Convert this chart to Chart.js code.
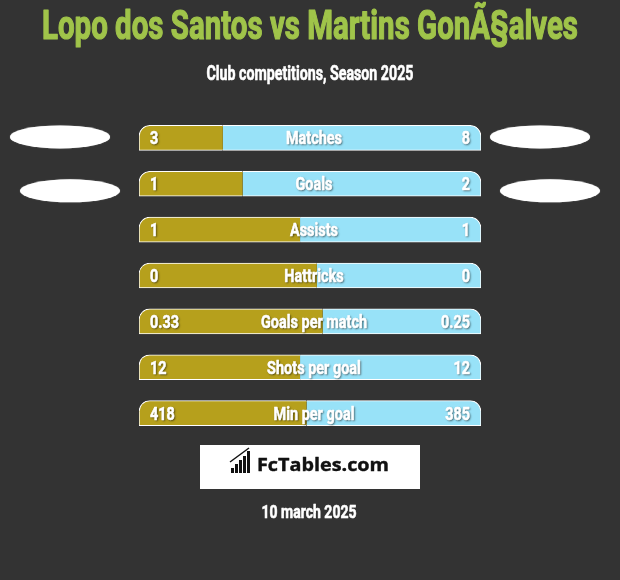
<!DOCTYPE html>
<html>
<head>
<meta charset="utf-8">
<title>Lopo dos Santos vs Martins Gonçalves</title>
<script src="https://cdn.jsdelivr.net/npm/chart.js@4"></script>
<style>
    html, body { margin: 0; padding: 0; background: #333333; }
    canvas { display: block; }
</style>
</head>
<body>
<canvas id="chart" width="620" height="580"></canvas>
<script>
// Chart data
const categories = ['Matches', 'Goals', 'Assists', 'Hattricks', 'Goals per match', 'Shots per goal', 'Min per goal'];
const leftValues = ['3', '1', '1', '0', '0.33', '12', '418'];
const rightValues = ['8', '2', '1', '0', '0.25', '12', '385'];
// gold part of each bar, in % of the bar length
const leftShare = [24.5, 30.3, 47.1, 52.0, 53.7, 47.1, 49.0];
const rightShare = leftShare.map(v => 100 - v);

const titleText = 'Lopo dos Santos vs Martins GonÃ§alves';
const subtitleText = 'Club competitions, Season 2025';
const dateText = '10 march 2025';

const GOLD = '#b6a01c';
const BLUE = '#98e2f8';
const BG = '#333333';
const FONT = 'Roboto, "Liberation Sans", sans-serif';

// Draw text squeezed horizontally (condensed look), optional stroke to thicken it
function drawText(ctx, text, x, y, size, color, align, opts = {}) {
    ctx.save();
    ctx.font = `bold ${size}px ${opts.family || FONT}`;
    const w = ctx.measureText(text).width;
    const sx = opts.width ? opts.width / w : (opts.squeeze || 1);
    ctx.translate(x, y);
    ctx.scale(sx, 1);
    ctx.textAlign = align;
    ctx.textBaseline = 'alphabetic';
    ctx.fillStyle = color;
    if (opts.shadow) {
        ctx.shadowColor = 'rgba(0,0,0,0.6)';
        ctx.shadowBlur = 2;
        ctx.shadowOffsetX = 1;
        ctx.shadowOffsetY = 1;
    }
    ctx.fillText(text, 0, 0);
    if (opts.heavy) {
        ctx.shadowColor = 'transparent';
        ctx.strokeStyle = color;
        ctx.lineWidth = opts.heavy;
        ctx.lineJoin = 'round';
        ctx.strokeText(text, 0, 0);
    }
    ctx.restore();
}

function ellipse(ctx, cx, cy) {
    ctx.save();
    ctx.fillStyle = '#ffffff';
    ctx.shadowColor = 'rgba(255,255,255,0.6)';
    ctx.shadowBlur = 1;
    ctx.beginPath();
    ctx.ellipse(cx, cy, 50, 11.5, 0, 0, Math.PI * 2);
    ctx.fill();
    ctx.restore();
}

// Background, headings, labels and footer
const decorPlugin = {
    id: 'decor',
    beforeDraw(chart) {
        const ctx = chart.ctx;
        ctx.save();
        ctx.fillStyle = BG;
        ctx.fillRect(0, 0, chart.width, chart.height);
        ctx.restore();
    },
    afterDatasetsDraw(chart) {
        const ctx = chart.ctx;
        const area = chart.chartArea;
        const bars = chart.getDatasetMeta(0).data;
        const mid = (area.left + area.right) / 2 + 4;

        drawText(ctx, titleText, 310, 38.5, 40, '#a0c44a', 'center', { width: 536, heavy: 1.2 });
        drawText(ctx, subtitleText, 310, 80, 20, '#ffffff', 'center', { width: 207, heavy: 0.6 });

        bars.forEach((bar, i) => {
            const y = bar.y + 6.5;
            const o = { squeeze: 0.76, shadow: true, heavy: 0.6 };
            drawText(ctx, leftValues[i], area.left + 11, y, 19, '#ffffff', 'left', o);
            drawText(ctx, categories[i], mid, y, 19, '#ffffff', 'center', o);
            drawText(ctx, rightValues[i], area.right - 11, y, 19, '#ffffff', 'right', o);
        });

        // team logo placeholders
        ellipse(ctx, 60, bars[0].y - 1);
        ellipse(ctx, 540, bars[0].y - 1);
        ellipse(ctx, 70, bars[1].y + 7);
        ellipse(ctx, 550, bars[1].y + 7);

        // FcTables box
        ctx.save();
        ctx.fillStyle = '#ffffff';
        ctx.fillRect(200, 445, 220, 44);
        ctx.fillStyle = '#111111';
        const heights = [5, 9, 13, 17, 22];
        heights.forEach((h, k) => ctx.fillRect(231 + k * 4, 473 - h, 3, h));
        ctx.strokeStyle = '#111111';
        ctx.lineWidth = 1.5;
        ctx.beginPath();
        ctx.moveTo(230, 462);
        ctx.lineTo(249, 448);
        ctx.stroke();
        ctx.restore();
        drawText(ctx, 'FcTables.com', 257, 471, 18, '#111111', 'left', { width: 132, heavy: 0.4, family: '"Open Sans", Roboto, sans-serif' });

        drawText(ctx, dateText, 309, 518, 18, '#ffffff', 'center', { width: 95, heavy: 0.6 });
    }
};

new Chart(document.getElementById('chart'), {
    type: 'bar',
    data: {
        labels: categories,
        datasets: [{
            data: leftShare,
            backgroundColor: GOLD,
            borderColor: '#ffffff',
            borderWidth: { top: 1, bottom: 1, left: 1, right: 0 },
            borderSkipped: false,
            borderRadius: { topLeft: 11, topRight: 0, bottomLeft: 0, bottomRight: 0 },
            barThickness: 25
        }, {
            data: rightShare,
            backgroundColor: BLUE,
            borderColor: '#ffffff',
            borderWidth: { top: 1, bottom: 1, left: 0, right: 1 },
            borderSkipped: false,
            borderRadius: { topLeft: 0, topRight: 11, bottomLeft: 0, bottomRight: 0 },
            barThickness: 25
        }]
    },
    options: {
        indexAxis: 'y',
        responsive: false,
        animation: false,
        layout: {
            padding: { left: 139, right: 139, top: 115, bottom: 144 }
        },
        scales: {
            x: { stacked: true, min: 0, max: 100, display: false },
            y: { stacked: true, display: false }
        },
        plugins: {
            legend: { display: false },
            tooltip: { enabled: false }
        }
    },
    plugins: [decorPlugin]
});
</script>
</body>
</html>
